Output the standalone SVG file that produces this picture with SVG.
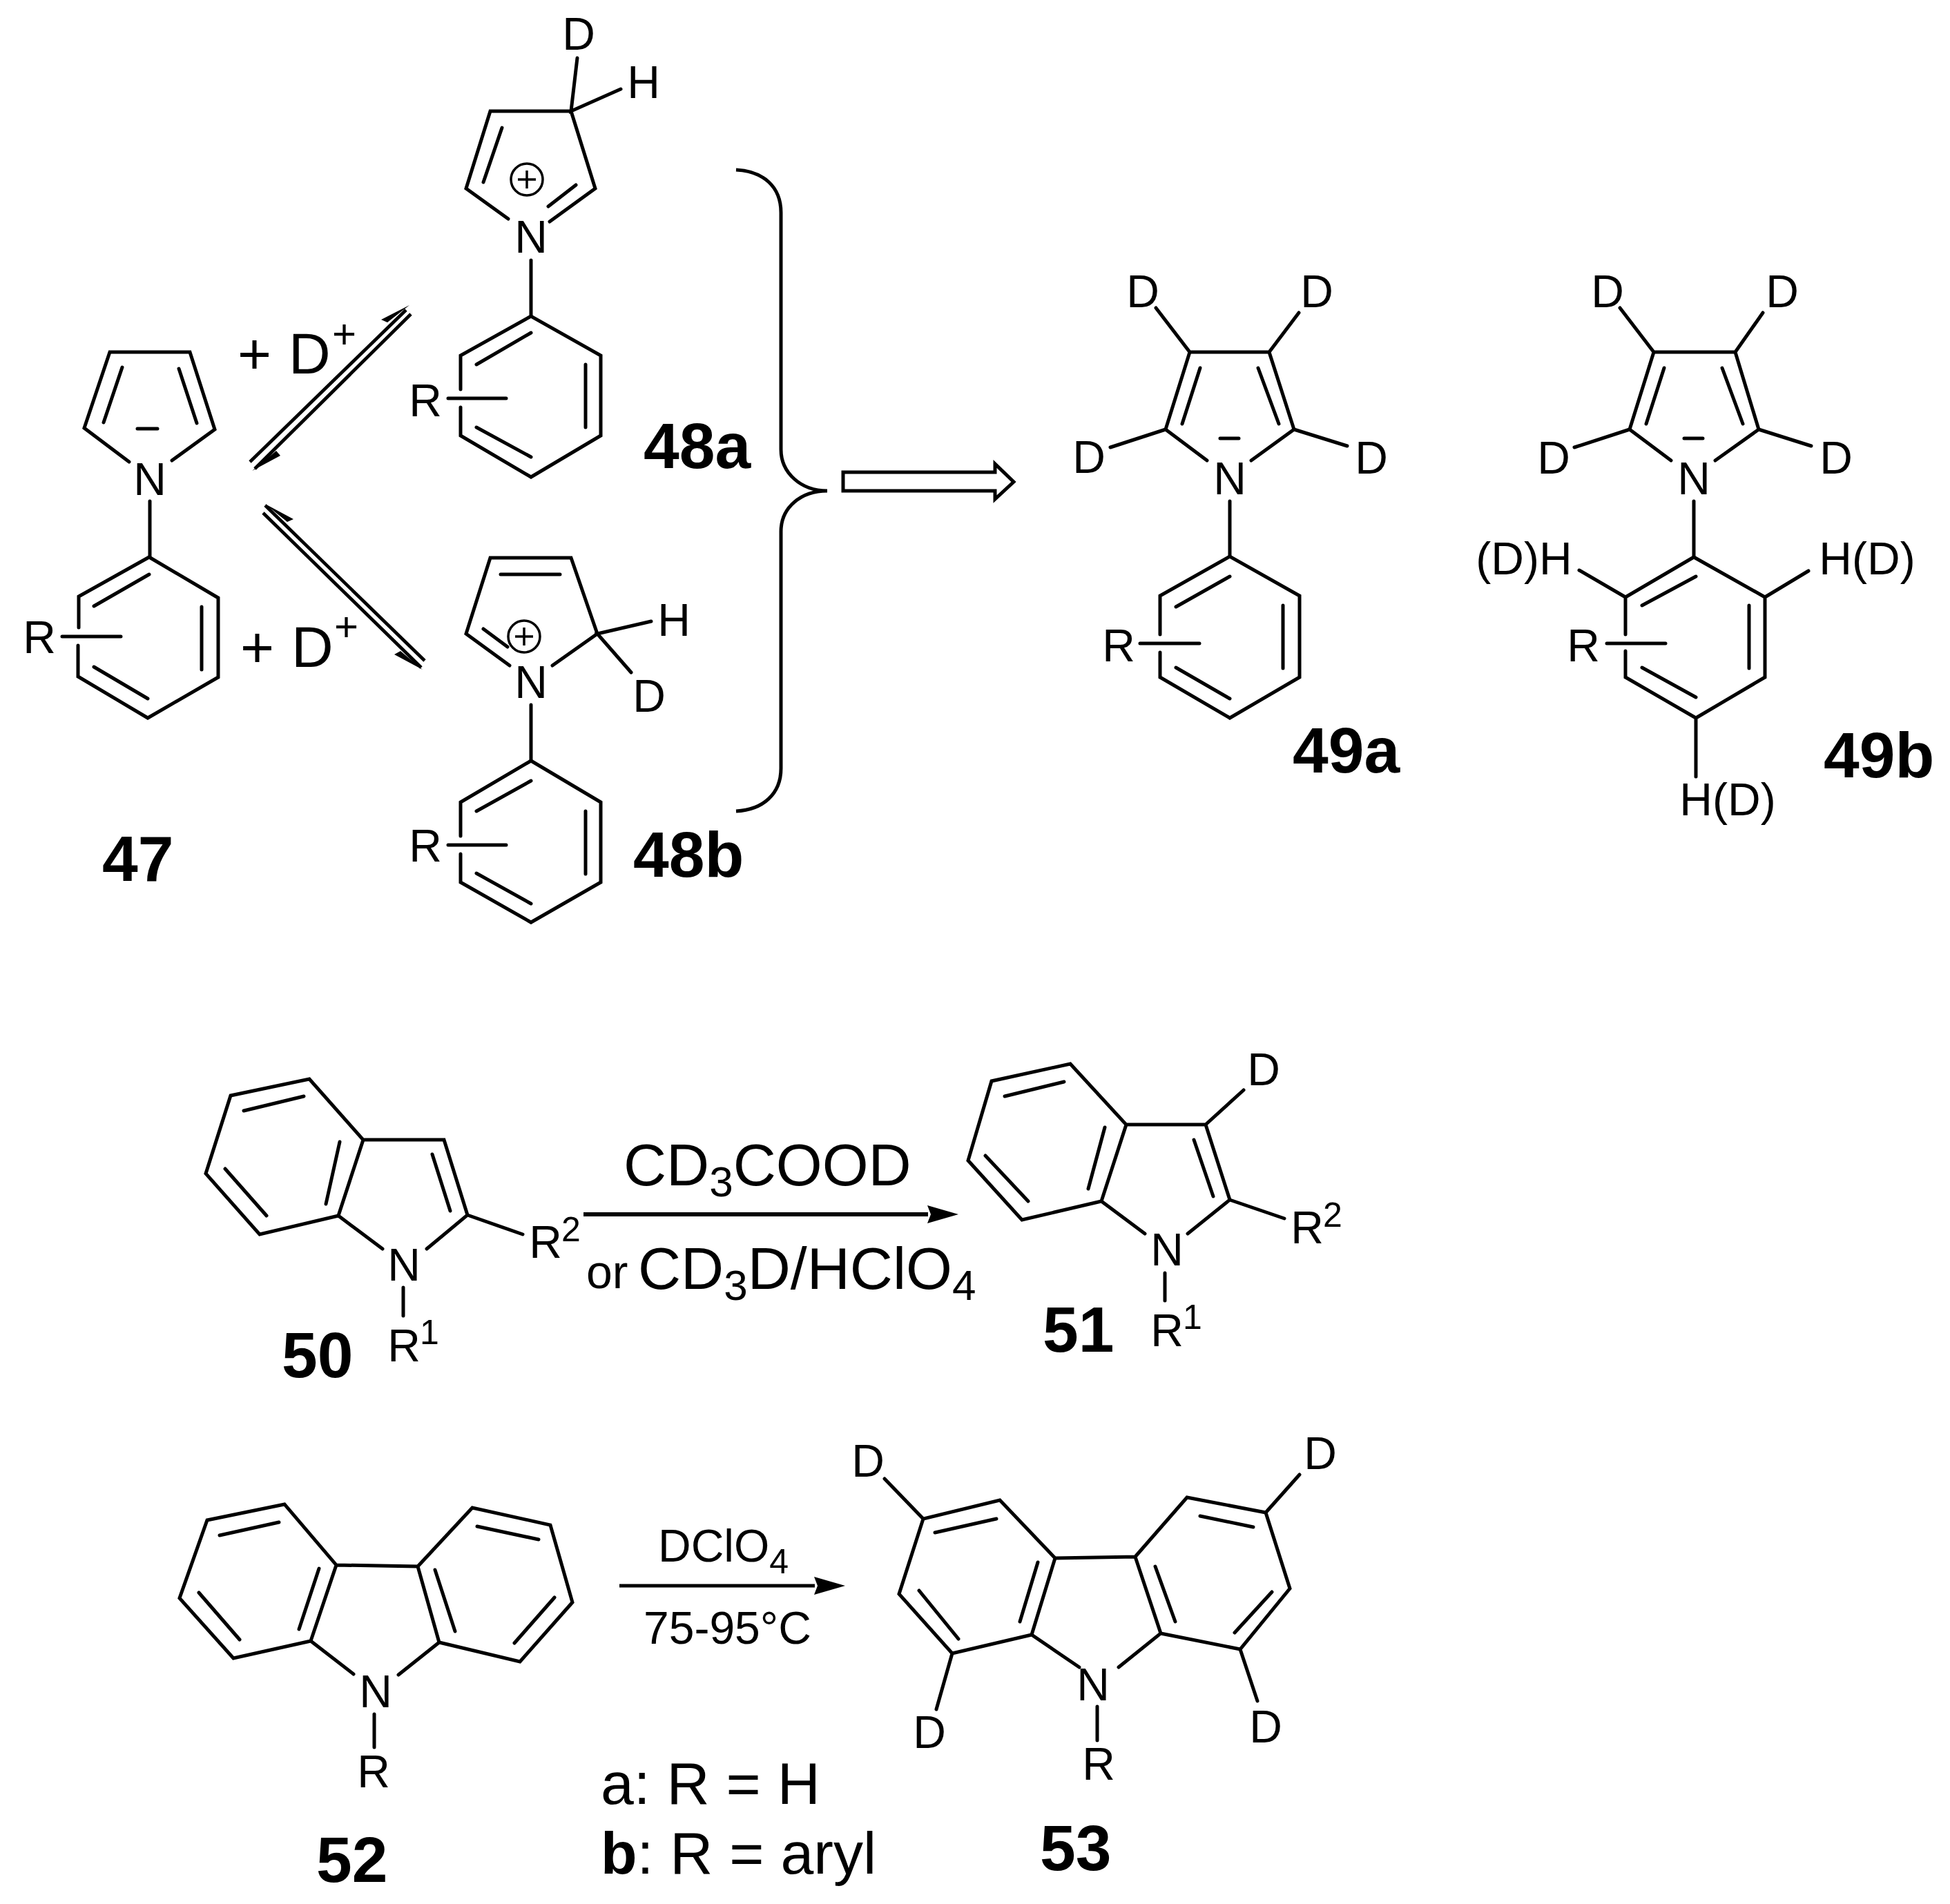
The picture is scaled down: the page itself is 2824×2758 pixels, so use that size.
<svg xmlns="http://www.w3.org/2000/svg" width="2824" height="2758" viewBox="0 0 2824 2758">
<style>
.b{fill:none;stroke:#000;stroke-width:5;stroke-linecap:round;stroke-linejoin:miter}
.c{fill:none;stroke:#000;stroke-width:5}
.f{fill:#000;stroke:none}
text{font-family:"Liberation Sans",Arial,sans-serif;fill:#000}
.a{font-size:66px;text-anchor:middle}
.s{font-size:50px}
.l{font-size:93px;font-weight:700}
.m{font-size:86px}
.p{font-size:84px}
.q{font-size:60px}
.t{font-size:66px}
.u{font-size:62px}
</style>
<defs>
<marker id="ah" markerUnits="userSpaceOnUse" markerWidth="45" markerHeight="26" viewBox="0 0 45 26" refX="1" refY="13" orient="auto"><path d="M0 0 L45 13 L0 26 L5 13 Z" fill="#000"/></marker>
</defs>
<rect width="2824" height="2758" fill="#fff"/>

<g id="n47">
<path class="b" d="M187 669L122 620L159 510H275L311 622L249 667M177 532L150 612M259 534L285 613M199 621H228M217 726V807"/>
<path class="b" d="M114 909V864L216 807L316 866V981L214 1040L113 980V935M136 878L216 832M292 879V970M136 966L214 1012M90 922H175"/>
<text class="a" x="217" y="717">N</text><text class="a" x="57" y="946">R</text>
<text class="l" x="148" y="1276">47</text>
</g>

<g id="n48a">
<path class="b" d="M736 317L675 273L710 161H827L862 273L796 321M727 185L700 264M834 268L794 299M836 84L827 161L899 129M769 377V458"/>
<circle class="c" cx="763" cy="260" r="23" style="stroke-width:3.5"/><path class="c" style="stroke-width:3.5" d="M750 260H776M763 247V273"/>
<path class="b" d="M667 564V515L769 458L870 515V631L769 691L667 631V590M690 528L769 482M848 528V619M690 619L769 662M649 577H733"/>
<text class="a" x="838" y="72">D</text><text class="a" x="932" y="142">H</text><text class="a" x="769" y="366">N</text><text class="a" x="616" y="603">R</text>
<text class="l" x="932" y="678">48a</text>
</g>

<g id="n48b">
<path class="b" d="M738 964L675 918L710 808H827L865 918L800 964M725 832H811M700 911L735 937M943 900L865 918L914 974M769 1021V1102"/>
<circle class="c" cx="759" cy="922" r="23" style="stroke-width:3.5"/><path class="c" style="stroke-width:3.5" d="M746 922H772M759 909V935"/>
<path class="b" d="M667 1211V1162L769 1102L870 1162V1278L769 1336L667 1278V1237M690 1175L769 1131M848 1175V1266M690 1265L769 1309M649 1224H733"/>
<text class="a" x="976" y="921">H</text><text class="a" x="940" y="1031">D</text><text class="a" x="769" y="1011">N</text><text class="a" x="616" y="1248">R</text>
<text class="l" x="917" y="1270">48b</text>
</g>

<g id="n49a">
<path class="b" d="M1748 667L1688 622L1723 510H1838L1874 622L1812 667M1738 533L1712 614M1822 533L1852 614M1767 635H1794M1674 446L1723 510M1881 453L1838 510M1608 648L1688 622M1951 646L1874 622M1781 726V806"/>
<path class="b" d="M1680 919V863L1781 806L1882 863V981L1781 1040L1680 981V945M1703 879L1781 835M1858 877V968M1703 967L1781 1012M1651 932H1737"/>
<text class="a" x="1655" y="445">D</text><text class="a" x="1907" y="445">D</text><text class="a" x="1577" y="685">D</text><text class="a" x="1986" y="686">D</text><text class="a" x="1781" y="716">N</text><text class="a" x="1620" y="958">R</text>
<text class="l" x="1872" y="1119">49a</text>
</g>

<g id="n49b">
<path class="b" d="M2420 667L2360 622L2395 510H2513L2547 622L2484 667M2410 533L2384 614M2494 533L2524 614M2439 635H2466M2346 446L2395 510M2553 453L2513 510M2280 648L2360 622M2623 646L2547 622M2453 726V807"/>
<path class="b" d="M2354 919V865L2453 807L2556 865V981L2456 1040L2354 981V943M2378 877L2456 835M2533 877V968M2378 967L2456 1010M2327 932H2412M2456 1040V1125M2287 826L2354 865M2619 827L2556 865"/>
<text class="a" x="2328" y="445">D</text><text class="a" x="2581" y="445">D</text><text class="a" x="2250" y="686">D</text><text class="a" x="2659" y="686">D</text><text class="a" x="2453" y="716">N</text><text class="a" x="2293" y="958">R</text>
<text class="a" x="2207" y="832">(D)H</text><text class="a" x="2704" y="832">H(D)</text><text class="a" x="2502" y="1181">H(D)</text>
<text class="l" x="2641" y="1126">49b</text>
</g>

<g id="n50">
<path class="b" d="M554 1809L490 1761L376 1788L298 1700L334 1587L448 1563L526 1651L490 1761M526 1651H643L677 1760L618 1809M677 1760L757 1788M440 1588L353 1609M326 1693L386 1761M492 1654L472 1744M626 1672L652 1754M584 1865V1906"/>
<text class="a" x="585" y="1855">N</text>
<text class="a" x="790" y="1822">R</text><text class="s" x="813" y="1798">2</text>
<text class="a" x="585" y="1972">R</text><text class="s" x="608" y="1947">1</text>
<text class="l" x="408" y="1995">50</text>
</g>

<g id="n51">
<path class="b" d="M1658 1787L1595 1740L1480 1767L1402 1681L1436 1566L1550 1541L1631 1629L1595 1740M1631 1629H1746L1781 1738L1720 1787M1781 1738L1860 1765M1801 1579L1746 1629M1541 1567L1455 1588M1427 1674L1489 1740M1600 1633L1576 1722M1729 1651L1757 1733M1687 1844V1884"/>
<text class="a" x="1690" y="1833">N</text><text class="a" x="1830" y="1572">D</text>
<text class="a" x="1893" y="1801">R</text><text class="s" x="1916" y="1777">2</text>
<text class="a" x="1690" y="1950">R</text><text class="s" x="1713" y="1925">1</text>
<text class="l" x="1510" y="1958">51</text>
</g>

<g id="n52">
<path class="b" d="M512 2425L450 2377L338 2402L260 2315L300 2202L412 2179L487 2267L450 2377M487 2267L605 2269L636 2379L577 2426M605 2269L684 2184L797 2209L829 2321L753 2407L636 2379M404 2205L318 2224M288 2307L347 2375M462 2272L433 2360M630 2274L659 2363M745 2380L803 2314M691 2211L780 2230M542 2483V2531"/>
<text class="a" x="544" y="2473">N</text><text class="a" x="541" y="2589">R</text>
<text class="l" x="458" y="2726">52</text>
</g>

<g id="n53">
<path class="b" d="M1563 2415L1494 2368L1379 2395L1302 2309L1337 2200L1448 2173L1528 2257L1494 2368M1528 2257L1644 2255L1681 2366L1620 2415M1644 2255L1719 2169L1833 2191L1868 2301L1796 2389L1681 2366M1443 2200L1354 2220M1331 2304L1388 2374M1503 2263L1477 2349M1673 2269L1702 2349M1788 2365L1842 2306M1738 2196L1815 2212M1281 2142L1337 2200M1882 2136L1833 2191M1379 2395L1356 2476M1796 2389L1821 2464M1589 2472V2521"/>
<text class="a" x="1583" y="2463">N</text><text class="a" x="1591" y="2578">R</text>
<text class="a" x="1257" y="2139">D</text><text class="a" x="1912" y="2128">D</text><text class="a" x="1346" y="2532">D</text><text class="a" x="1833" y="2524">D</text>
<text class="l" x="1506" y="2709">53</text>
</g>

<g id="connectors">
<path class="c" style="stroke-width:4.8" d="M362 669L588 449M595 455L369 679M384 732L615 957M381 743L610 967"/>
<path class="f" d="M593 442L552 463L561 467ZM365 682L406 660L400 653ZM384 730L425 752L416 756ZM612 970L571 948L580 943Z"/>
<path class="c" d="M1066 246C1105 248 1131 270 1131 308V651C1131 685 1160 711 1198 711C1160 711 1131 735 1131 770V1113C1131 1150 1105 1173 1066 1175"/>
<path d="M1221 684H1441V672L1468 698L1441 723V711H1221Z" fill="#fff" stroke="#000" stroke-width="5"/>
<path class="c" style="stroke-width:6" d="M845 1759H1344" marker-end="url(#ah)"/>
<path class="c" d="M897 2297H1180" marker-end="url(#ah)"/>
</g>

<g id="labels">
<text class="p" x="344" y="541">+</text><text class="p" x="418" y="541">D</text><text class="q" x="481" y="504">+</text>
<text class="p" x="348" y="966">+</text><text class="p" x="422" y="966">D</text><text class="q" x="484" y="928">+</text>
<text class="m" x="903" y="1717">CD<tspan class="u" dy="16">3</tspan><tspan dy="-16">COOD</tspan></text>
<text x="849" y="1866" style="font-size:68px">or</text>
<text class="m" x="924" y="1867">CD<tspan class="u" dy="16">3</tspan><tspan dy="-16">D/HClO</tspan><tspan class="u" dy="16">4</tspan></text>
<text class="t" x="953" y="2262">DClO<tspan class="s" dy="17">4</tspan></text>
<text class="t" x="932" y="2381">75-95°C</text>
<text class="m" x="870" y="2613">a: R = H</text>
<text class="m" x="870" y="2714"><tspan font-weight="700">b</tspan>: R = aryl</text>
</g>
</svg>
